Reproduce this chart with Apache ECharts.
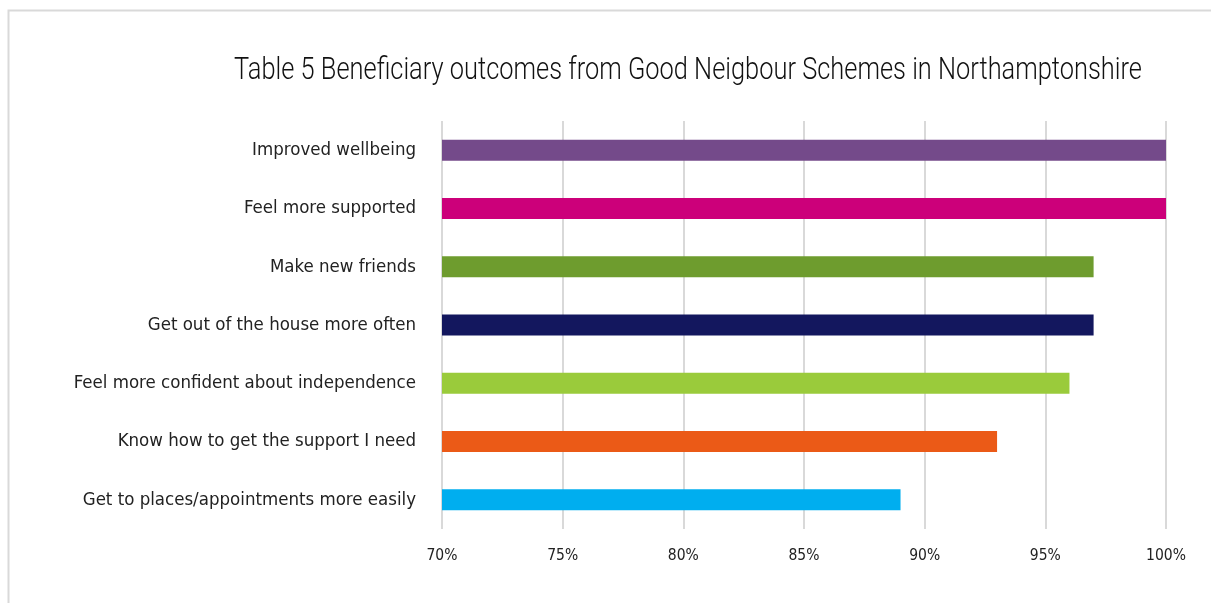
<!DOCTYPE html>
<html>
<head>
<meta charset="utf-8">
<script src="https://cdn.jsdelivr.net/npm/echarts@6/dist/echarts.min.js"></script>
<style>
  html, body { margin: 0; padding: 0; background: #ffffff; }
  #chart { width: 1211px; height: 603px; }
</style>
</head>
<body>
<div id="chart"></div>
<script>
// Outcome categories, listed top to bottom
const categories = [
  'Improved wellbeing',
  'Feel more supported',
  'Make new friends',
  'Get out of the house more often',
  'Feel more confident about independence',
  'Know how to get the support I need',
  'Get to places/appointments more easily'
];
// Share of beneficiaries reporting each outcome (%)
const values = [100, 100, 97, 97, 96, 93, 89];
// One colour per outcome bar
const barColors = ['#744A8A', '#CC007A', '#6E9C2E', '#13175E', '#9ACB3B', '#EB5A17', '#00AEEF'];
// Axis range and tick step (%)
const axisMin = 70, axisMax = 100, axisStep = 5;
const chartTitle = 'Table 5 Beneficiary outcomes from Good Neigbour Schemes in Northamptonshire';

const FONT = '"Liberation Sans Narrow", "DejaVu Sans Condensed", "Open Sans", sans-serif';
const TITLE_FONT = 'Roboto, "DejaVu Sans Condensed", sans-serif';

const chart = echarts.init(document.getElementById('chart'), null, { renderer: 'canvas' });

// measure the title so it can be condensed to a fixed width
const titleSize = 31;
const titleWidth = 908;
const measureCtx = document.createElement('canvas').getContext('2d');
measureCtx.font = '300 ' + titleSize + 'px ' + TITLE_FONT;
const titleScale = titleWidth / measureCtx.measureText(chartTitle).width;

chart.setOption({
  backgroundColor: '#ffffff',
  animation: false,
  graphic: [
    {
      type: 'rect',
      shape: { x: 8.5, y: 10.5, width: 1220, height: 620 },
      style: { fill: 'none', stroke: '#d9d9d9', lineWidth: 2 },
      silent: true
    },
    {
      // condensed title, centred over the chart
      type: 'text',
      x: 688,
      y: 71,
      scaleX: titleScale,
      style: {
        text: chartTitle,
        fontFamily: TITLE_FONT,
        fontWeight: 300,
        fontSize: titleSize,
        fill: '#111111',
        align: 'center',
        verticalAlign: 'middle'
      },
      silent: true
    }
  ],
  grid: { left: 442, right: 45, top: 121, bottom: 74, containLabel: false },
  xAxis: {
    type: 'value',
    min: axisMin,
    max: axisMax,
    interval: axisStep,
    axisLine: { show: false },
    axisTick: { show: false },
    splitLine: { show: true, lineStyle: { color: '#d9d9d9', width: 2 } },
    axisLabel: {
      formatter: v => v + '%',
      margin: 19,
      fontFamily: FONT,
      fontSize: 15.5,
      color: '#222222'
    }
  },
  yAxis: {
    type: 'category',
    data: categories,
    inverse: true,
    axisLine: { show: false },
    axisTick: { show: false },
    axisLabel: { margin: 26, fontFamily: FONT, fontSize: 18.5, color: '#222222' }
  },
  series: [{
    type: 'bar',
    data: values.map((v, i) => ({ value: v, itemStyle: { color: barColors[i] } })),
    barWidth: 21
  }]
});
</script>
</body>
</html>
